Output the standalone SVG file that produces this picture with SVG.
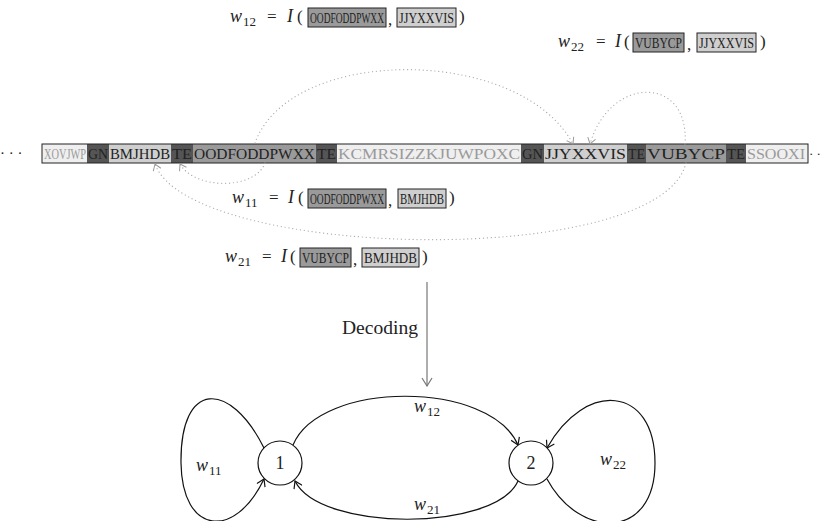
<svg xmlns="http://www.w3.org/2000/svg" width="821" height="521" viewBox="0 0 821 521">
<style>
text{font-family:"Liberation Serif","DejaVu Serif",serif;fill:#222}
.it{font-style:italic;font-size:18px}
.sub{font-size:13px}
.op{font-size:17px}
.bx{font-size:14px}
.rw{font-size:15px}
.b1{fill:#9a9a9a;stroke:#222;stroke-width:1}
.b2{fill:#cfcfcf;stroke:#222;stroke-width:1}
.s0{fill:#efefef}
.s1{fill:#555}
.s2{fill:#cfcfcf}
.s3{fill:#9a9a9a}
.t0{fill:#9a9a9a}
.dot{fill:none;stroke:#aaa;stroke-width:1.2;stroke-dasharray:0.1 3.8;stroke-linecap:round}
.edge{fill:none;stroke:#111;stroke-width:1.2}
.node{fill:#fff;stroke:#111;stroke-width:1.2}
</style>
<defs>
<marker id="ag" viewBox="-7 -5 8 10" markerWidth="8" markerHeight="10" refX="0" refY="0" orient="auto" markerUnits="userSpaceOnUse">
<path d="M -6 -4 L 0 0 L -6 4" fill="none" stroke="#999" stroke-width="1"/>
</marker>
<marker id="ak" viewBox="-8 -5 9 10" markerWidth="9" markerHeight="10" refX="0" refY="0" orient="auto" markerUnits="userSpaceOnUse">
<path d="M -7 -4.5 L 0 0 L -7 4.5" fill="none" stroke="#111" stroke-width="1.2"/>
</marker>
<marker id="ad" viewBox="-9 -6 10 12" markerWidth="10" markerHeight="12" refX="0" refY="0" orient="auto" markerUnits="userSpaceOnUse">
<path d="M -8 -5 L 0 0 L -8 5" fill="none" stroke="#777" stroke-width="1.2"/>
</marker>
</defs>

<g id="eq-w12">
<text x="230" y="22" class="it">w</text><text x="243" y="26" class="sub">12</text>
<text x="267" y="22" class="op">=</text>
<text x="287" y="22" class="it">I</text><text x="297" y="22" class="op">(</text>
<rect x="308" y="8" width="78" height="19" class="b1"/><text x="310" y="23" class="bx" textLength="74" lengthAdjust="spacingAndGlyphs">OODFODDPWXX</text>
<text x="388" y="25" class="op">,</text>
<rect x="397" y="8" width="59" height="19" class="b2"/><text x="399" y="23" class="bx" textLength="55" lengthAdjust="spacingAndGlyphs">JJYXXVIS</text>
<text x="459" y="22" class="op">)</text>
</g>

<g id="eq-w22">
<text x="558" y="47" class="it">w</text><text x="571" y="51" class="sub">22</text>
<text x="596" y="47" class="op">=</text>
<text x="615" y="47" class="it">I</text><text x="624" y="47" class="op">(</text>
<rect x="633" y="33" width="51" height="19" class="b1"/><text x="635" y="48" class="bx" textLength="47" lengthAdjust="spacingAndGlyphs">VUBYCP</text>
<text x="687" y="50" class="op">,</text>
<rect x="697" y="33" width="59" height="19" class="b2"/><text x="699" y="48" class="bx" textLength="55" lengthAdjust="spacingAndGlyphs">JJYXXVIS</text>
<text x="760" y="47" class="op">)</text>
</g>

<g id="sequence">
<text x="0" y="158" class="rw">· · ·</text>
<rect x="42" y="144" width="45" height="19" class="s0"/>
<rect x="87" y="144" width="22" height="19" class="s1"/>
<rect x="109" y="144" width="62" height="19" class="s2"/>
<rect x="171" y="144" width="22" height="19" class="s1"/>
<rect x="193" y="144" width="123" height="19" class="s3"/>
<rect x="316" y="144" width="21" height="19" class="s1"/>
<rect x="337" y="144" width="184" height="19" class="s0"/>
<rect x="521" y="144" width="23" height="19" class="s1"/>
<rect x="544" y="144" width="83" height="19" class="s2"/>
<rect x="627" y="144" width="19" height="19" class="s1"/>
<rect x="646" y="144" width="80" height="19" class="s3"/>
<rect x="726" y="144" width="20" height="19" class="s1"/>
<rect x="746" y="144" width="62" height="19" class="s0"/>
<rect x="42" y="144" width="766" height="19" fill="none" stroke="#222" stroke-width="1"/>
<text x="44" y="159" class="rw t0" textLength="42" lengthAdjust="spacingAndGlyphs">XOVJWP</text>
<text x="88" y="159" class="rw" textLength="20" lengthAdjust="spacingAndGlyphs">GN</text>
<text x="110" y="159" class="rw" textLength="60" lengthAdjust="spacingAndGlyphs">BMJHDB</text>
<text x="172" y="159" class="rw" textLength="20" lengthAdjust="spacingAndGlyphs">TE</text>
<text x="194" y="159" class="rw" textLength="121" lengthAdjust="spacingAndGlyphs">OODFODDPWXX</text>
<text x="317" y="159" class="rw" textLength="19" lengthAdjust="spacingAndGlyphs">TE</text>
<text x="338" y="159" class="rw t0" textLength="182" lengthAdjust="spacingAndGlyphs">KCMRSIZZKJUWPOXC</text>
<text x="522" y="159" class="rw" textLength="21" lengthAdjust="spacingAndGlyphs">GN</text>
<text x="545" y="159" class="rw" textLength="81" lengthAdjust="spacingAndGlyphs">JJYXXVIS</text>
<text x="628" y="159" class="rw" textLength="17" lengthAdjust="spacingAndGlyphs">TE</text>
<text x="647" y="159" class="rw" textLength="78" lengthAdjust="spacingAndGlyphs">VUBYCP</text>
<text x="727" y="159" class="rw" textLength="18" lengthAdjust="spacingAndGlyphs">TE</text>
<text x="747" y="159" class="rw t0" textLength="58" lengthAdjust="spacingAndGlyphs">SSOOXI</text>
<text x="809" y="158" style="font-size:13px">· ·</text>
</g>

<g id="eq-w11">
<text x="232" y="203" class="it">w</text><text x="245" y="207" class="sub">11</text>
<text x="269" y="203" class="op">=</text>
<text x="288" y="203" class="it">I</text><text x="298" y="203" class="op">(</text>
<rect x="308" y="189" width="78" height="19" class="b1"/><text x="310" y="204" class="bx" textLength="74" lengthAdjust="spacingAndGlyphs">OODFODDPWXX</text>
<text x="388" y="206" class="op">,</text>
<rect x="398" y="189" width="48" height="19" class="b2"/><text x="400" y="204" class="bx" textLength="44" lengthAdjust="spacingAndGlyphs">BMJHDB</text>
<text x="449" y="203" class="op">)</text>
</g>

<g id="eq-w21">
<text x="225" y="262" class="it">w</text><text x="238" y="266" class="sub">21</text>
<text x="262" y="262" class="op">=</text>
<text x="281" y="262" class="it">I</text><text x="290" y="262" class="op">(</text>
<rect x="300" y="248" width="51" height="19" class="b1"/><text x="302" y="263" class="bx" textLength="47" lengthAdjust="spacingAndGlyphs">VUBYCP</text>
<text x="353" y="265" class="op">,</text>
<rect x="362" y="248" width="57" height="19" class="b2"/><text x="364" y="263" class="bx" textLength="53" lengthAdjust="spacingAndGlyphs">BMJHDB</text>
<text x="422" y="262" class="op">)</text>
</g>

<g id="links">
<path class="dot" d="M 255 143 C 290 45, 520 45, 573 144" marker-end="url(#ag)"/>
<path class="dot" d="M 685 144 C 690 75, 610 75, 590 144" marker-end="url(#ag)"/>
<path class="dot" d="M 265 163 C 255 190, 195 190, 180 164" marker-end="url(#ag)"/>
<path class="dot" d="M 686 163 C 660 270, 190 260, 155 164" marker-end="url(#ag)"/>
</g>

<g id="decoding">
<line x1="427" y1="282" x2="427" y2="386" stroke="#777" stroke-width="1.2" marker-end="url(#ad)"/>
<text x="342" y="334" style="font-size:18px" textLength="76" lengthAdjust="spacingAndGlyphs">Decoding</text>
</g>

<g id="connectors">
<path class="edge" d="M 293 445 C 320 380, 490 380, 518 445" marker-end="url(#ak)"/>
<path class="edge" d="M 518 481 C 495 532, 320 532, 295 481" marker-end="url(#ak)"/>
<path class="edge" d="M 264 448 C 230 380, 180 380, 181 463 C 182 535, 235 540, 264 479" marker-end="url(#ak)"/>
<path class="edge" d="M 547 479 C 580 540, 655 540, 655 463 C 655 385, 585 380, 547 448" marker-end="url(#ak)"/>
<text x="414" y="412" class="it">w</text><text x="427" y="416" class="sub">12</text>
<text x="414" y="510" class="it">w</text><text x="427" y="514" class="sub">21</text>
<text x="196" y="471" class="it">w</text><text x="209" y="475" class="sub">11</text>
<text x="600" y="465" class="it">w</text><text x="613" y="469" class="sub">22</text>
</g>

<g id="node-1">
<circle cx="280" cy="463" r="22" class="node"/>
<text x="280" y="469" text-anchor="middle" style="font-size:18px">1</text>
</g>
<g id="node-2">
<circle cx="531" cy="463" r="22" class="node"/>
<text x="531" y="469" text-anchor="middle" style="font-size:18px">2</text>
</g>
</svg>
